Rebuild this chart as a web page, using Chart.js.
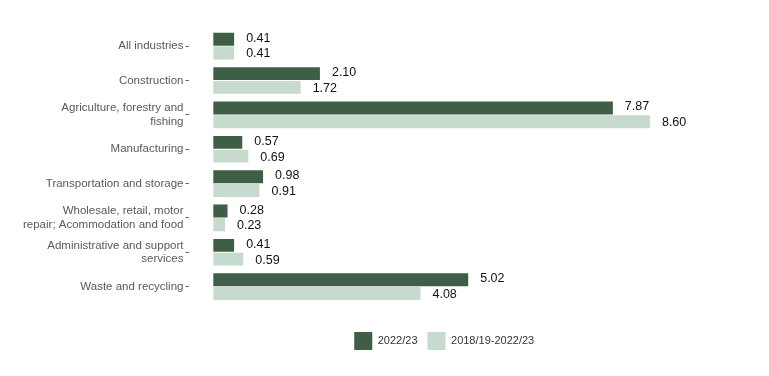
<!DOCTYPE html>
<html>
<head>
<meta charset="utf-8">
<script src="https://cdn.jsdelivr.net/npm/chart.js@4"></script>
<style>
  html, body { margin: 0; padding: 0; background: #fff; }
  #wrap { width: 769px; height: 376px; }
</style>
</head>
<body>
<div id="wrap"><canvas id="industry-chart"></canvas></div>
<script>
var industries = [
	"All industries",
	"Construction",
	["Agriculture, forestry and", "fishing"],
	"Manufacturing",
	"Transportation and storage",
	["Wholesale, retail, motor", "repair; Acommodation and food"],
	["Administrative and support", "services"],
	"Waste and recycling"
];
var latestYear = [0.41, 2.10, 7.87, 0.57, 0.98, 0.28, 0.41, 5.02];
var fiveYearAvg = [0.41, 1.72, 8.60, 0.69, 0.91, 0.23, 0.59, 4.08];
var seriesNames = ["2022/23", "2018/19-2022/23"];
var seriesColors = ['#3e5e46', '#c6dace'];

// draws the number just right of each bar
var valueLabels = {
	id: 'valueLabels',
	afterDatasetsDraw(chart) {
		var ctx = chart.ctx;
		ctx.save();
		ctx.font = '12.5px "Liberation Sans", Arial, sans-serif';
		ctx.fillStyle = '#111';
		ctx.textBaseline = 'middle';
		ctx.textAlign = 'left';
		chart.data.datasets.forEach(function (ds, i) {
			var meta = chart.getDatasetMeta(i);
			meta.data.forEach(function (bar, j) {
				ctx.fillText(ds.data[j].toFixed(2), bar.x + 12, bar.y + (i == 0 ? -1 : 1));
			});
		});
		ctx.restore();
	}
};

// nudge the legend a little left of the plot centre
var legendShift = {
	id: 'legendShift',
	afterLayout(chart) {
		chart.legend.left -= 11;
		chart.legend.right -= 11;
	}
};

new Chart('industry-chart', {
	type: 'bar',
	data: {
		labels: industries,
		datasets: [
			{
				label: seriesNames[0],
				data: latestYear,
				backgroundColor: seriesColors[0],
				categoryPercentage: 0.8,
				barPercentage: 0.94
			},
			{
				label: seriesNames[1],
				data: fiveYearAvg,
				backgroundColor: seriesColors[1],
				categoryPercentage: 0.8,
				barPercentage: 0.94
			}
		]
	},
	plugins: [valueLabels, legendShift],
	options: {
		indexAxis: 'y',
		responsive: true,
		maintainAspectRatio: false,
		animation: false,
		layout: {
			padding: { top: 29, right: 48, bottom: 16, left: 21 }
		},
		scales: {
			x: {
				min: -0.47,
				max: 10,
				display: false
			},
			y: {
				grid: {
					offset: false,
					drawOnChartArea: false,
					drawTicks: true,
					tickLength: 4,
					tickColor: '#666',
					tickWidth: 1
				},
				border: { display: false },
				ticks: {
					color: '#595959',
					padding: 2,
					font: { family: '"Liberation Sans", Arial, sans-serif', size: 11.5 }
				}
			}
		},
		plugins: {
			legend: {
				position: 'bottom',
				fullSize: false,
				title: {
					display: true,
					text: ' ',
					font: { size: 1 },
					padding: { top: 0, bottom: 17 }
				},
				labels: {
					boxWidth: 18,
					boxHeight: 18,
					color: '#333',
					padding: 10,
					font: { family: '"Liberation Sans", Arial, sans-serif', size: 11 }
				}
			},
			tooltip: { enabled: false }
		}
	}
});
</script>
</body>
</html>
